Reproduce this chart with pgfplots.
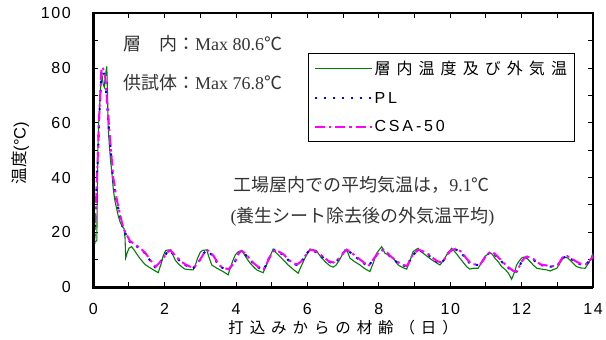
\documentclass[border=0pt]{standalone}
\usepackage{fontspec}
\usepackage{pgfplots}
\pgfplotsset{compat=1.18}
\setmainfont{Liberation Sans}
\newfontfamily\cjk{Noto Sans CJK JP}
\newfontfamily\cjksp[LetterSpace=38]{Noto Sans CJK JP}
\newfontfamily\cjkleg[LetterSpace=38]{Noto Sans CJK JP}
\newfontfamily\latsp[LetterSpace=18]{Liberation Sans}
\newfontfamily\ticksp[LetterSpace=10]{Liberation Sans}
\newfontfamily\serif{Liberation Serif}
\definecolor{cgreen}{RGB}{0,128,0}
\definecolor{cblue}{RGB}{0,0,255}
\definecolor{cmag}{RGB}{255,0,255}

\pgfplotstableread{
x y
0.00 16
0.05 16.5
0.10 17
0.11 30
0.13 50
0.15 60
0.17 62
0.19 70
0.22 75
0.25 77
0.28 74
0.31 73
0.34 77
0.36 79
0.38 80.6
0.40 70
0.42 58
0.45 52
0.48 47
0.52 42
0.56 36
0.60 32
0.65 29
0.70 26
0.76 23.5
0.82 22
0.86 21.5
0.89 18
0.91 10.7
0.95 12.5
1.00 14.2
1.07 14.8
1.15 13.5
1.25 11.5
1.35 9.8
1.45 8.3
1.55 7.4
1.65 6.6
1.75 5.8
1.82 5.3
1.90 8.5
1.96 11.5
2.03 13.4
2.10 13.6
2.17 13.4
2.24 11.5
2.30 9.8
2.40 8.3
2.50 7.2
2.57 6.6
2.70 6.4
2.80 6.3
2.86 8
2.92 10.5
3.00 12.8
3.06 13.4
3.18 13.6
3.24 11
3.32 8.1
3.45 7.0
3.55 6.3
3.65 5.6
3.78 4.5
3.85 7.5
3.92 10
3.98 11.8
4.05 12.8
4.16 13.4
4.25 11.5
4.39 8.8
4.50 7.3
4.58 6.3
4.70 5.6
4.76 5.3
4.85 8
4.95 11.2
5.04 13.9
5.12 12.6
5.23 11.2
5.35 9.6
5.46 8.1
5.60 6.5
5.74 5.1
5.82 7.5
5.93 10.6
6.02 12.8
6.07 13.9
6.25 13.4
6.32 12
6.40 10.6
6.52 9
6.63 7.8
6.72 7.3
6.80 8
6.91 10.2
7.05 13.6
7.12 13
7.19 10.6
7.30 9.5
7.47 8.1
7.60 6.8
7.75 5.7
7.85 9
7.94 12.4
8.08 14.8
8.17 12.4
8.28 11.6
8.40 10.6
8.54 8.1
8.66 7.2
8.78 6.6
8.87 9.5
8.96 13
9.10 14.2
9.24 12.4
9.36 11.2
9.48 10
9.60 9
9.71 8.1
9.80 9.5
9.90 11.8
10.04 14.2
10.15 12.6
10.27 10.6
10.38 8.8
10.46 7.5
10.55 6.6
10.65 6.9
10.78 6.9
10.88 9
10.97 11.2
11.11 12.6
11.18 12
11.25 10.6
11.35 9.2
11.44 7.5
11.55 6.3
11.63 5.1
11.72 2.9
11.80 5.5
11.86 8.1
11.93 9.5
12.00 10.6
12.07 11
12.15 10.5
12.24 9.3
12.33 8
12.43 6.9
12.55 6.6
12.71 6.3
12.80 5.9
12.90 6.5
12.99 6.9
13.06 8.5
13.13 10
13.21 11
13.30 10.6
13.40 9.3
13.54 7.5
13.66 7
13.78 6.9
13.88 8.8
13.97 11.2
14.00 12.4
}\greendata

\pgfplotstableread{
x y
0.00 15.5
0.03 16
0.06 25
0.08 32.5
0.13 48
0.16 60
0.19 68
0.21 72.6
0.23 79
0.27 79.5
0.30 78
0.32 77.5
0.36 71.4
0.41 62.9
0.46 54.4
0.50 48.3
0.55 39.8
0.64 32.5
0.74 26.4
0.83 21.5
0.92 19.1
1.02 16.6
1.16 15.4
1.25 14.6
1.35 13.5
1.45 12.4
1.55 10.5
1.68 8.1
1.73 7.3
1.85 8.8
1.96 10.6
2.06 12.6
2.15 13.4
2.24 12
2.34 10.6
2.45 9.2
2.57 8.1
2.70 7.3
2.80 6.9
2.90 8.3
2.99 10
3.10 12.5
3.19 13.4
3.28 12.3
3.36 11.2
3.45 9.3
3.55 7.5
3.66 6.8
3.78 6.3
3.88 7.8
3.97 9.3
4.05 11.8
4.11 13
4.18 13
4.28 11.6
4.39 10
4.48 8.6
4.58 7.5
4.68 6.8
4.76 6.3
4.84 8
4.90 10
5.00 12.3
5.09 13.6
5.20 12.7
5.32 11.8
5.42 10.4
5.51 9.3
5.60 8.6
5.70 8.1
5.80 9
5.88 10.2
5.98 12.3
6.07 13.6
6.21 13
6.30 12.2
6.40 11.2
6.50 10.2
6.58 9.3
6.72 8.8
6.82 9.6
6.91 10.6
7.00 12.4
7.09 13.6
7.18 12.9
7.28 11.8
7.40 10.5
7.52 9.3
7.62 8.3
7.70 7.5
7.82 9.7
7.94 11.8
8.03 12.9
8.12 13.6
8.22 12.4
8.31 11.2
8.42 10
8.54 8.8
8.66 8
8.78 7.5
8.85 9.3
8.92 11.2
9.02 12.6
9.10 13.6
9.24 12.8
9.38 11.8
9.50 10.5
9.62 9.3
9.76 8.8
9.86 10.6
9.94 12.4
10.05 13.4
10.13 13.9
10.27 13
10.37 11.5
10.46 10
10.53 9
10.60 8.1
10.72 8.1
10.83 8.1
10.93 10
11.02 11.8
11.16 13
11.25 11.8
11.34 10.6
11.44 9.3
11.53 8.1
11.65 6.8
11.76 5.7
11.86 5.7
11.93 7.5
12.00 9.3
12.07 10.4
12.14 11
12.23 10.5
12.33 10
12.42 9
12.52 8.1
12.65 7.8
12.80 7.5
12.99 7.5
13.06 9
13.13 10.6
13.26 11.2
13.38 10.3
13.50 9.3
13.60 8.6
13.69 8.1
13.78 8.1
13.88 9.3
13.97 10.6
14.00 11.8
}\bluedata

\pgfplotstableread{
x y
0.00 16
0.03 16.5
0.06 26
0.09 35
0.13 49
0.16 61
0.19 69
0.21 74
0.23 80
0.27 80.3
0.30 78.5
0.33 77.5
0.37 71
0.42 62.5
0.47 54
0.51 48
0.56 40
0.65 32.5
0.75 26.5
0.84 21.7
0.93 19.3
1.03 16.8
1.17 15.6
1.26 14.8
1.36 13.7
1.46 12.5
1.56 10.6
1.69 8.3
1.75 7.5
1.86 9
1.97 10.8
2.07 12.7
2.16 13.5
2.25 12.2
2.35 10.8
2.46 9.4
2.58 8.3
2.71 7.5
2.81 7.1
2.91 8.5
3.00 10.2
3.11 12.6
3.20 13.5
3.29 12.5
3.37 11.4
3.46 9.5
3.56 7.7
3.67 7
3.79 6.5
3.89 8
3.98 9.5
4.06 12
4.12 13.1
4.19 13.1
4.29 11.8
4.40 10.2
4.49 8.8
4.59 7.7
4.69 7
4.77 6.5
4.85 8.2
4.91 10.2
5.01 12.5
5.10 13.7
5.21 12.9
5.33 12
5.43 10.6
5.52 9.5
5.61 8.8
5.71 8.3
5.81 9.2
5.89 10.4
5.99 12.5
6.08 13.7
6.22 13.2
6.31 12.4
6.41 11.4
6.51 10.4
6.59 9.5
6.73 9
6.83 9.8
6.92 10.8
7.01 12.6
7.10 13.7
7.19 13.1
7.29 12
7.41 10.7
7.53 9.5
7.63 8.5
7.71 7.7
7.83 9.9
7.95 12
8.04 13.1
8.13 13.7
8.23 12.6
8.32 11.4
8.43 10.2
8.55 9
8.67 8.2
8.79 7.7
8.86 9.5
8.93 11.4
9.03 12.8
9.11 13.7
9.25 13
9.39 12
9.51 10.7
9.63 9.5
9.77 9
9.87 10.8
9.95 12.6
10.06 13.6
10.14 14
10.28 13.2
10.38 11.7
10.47 10.2
10.54 9.2
10.61 8.3
10.73 8.3
10.84 8.3
10.94 10.2
11.03 12
11.17 13.1
11.26 12
11.35 10.8
11.45 9.5
11.54 8.3
11.66 7
11.77 5.9
11.87 5.9
11.94 7.7
12.01 9.5
12.08 10.6
12.15 11.2
12.24 10.7
12.34 10.2
12.43 9.2
12.53 8.3
12.66 8
12.81 7.7
13.00 7.7
13.07 9.2
13.14 10.8
13.27 11.4
13.39 10.5
13.51 9.5
13.61 8.8
13.70 8.3
13.79 8.3
13.89 9.5
13.98 10.8
14.00 11.6
}\magdata

\begin{document}
\begin{tikzpicture}
\begin{axis}[
  at={(0,0)}, anchor=south west,
  width=500bp, height=274bp, scale only axis,
  xmin=0, xmax=14, ymin=0, ymax=100,
  xtick={0,2,...,14}, minor xtick={1,3,...,13},
  ytick={0,20,...,100}, minor ytick={10,30,...,90},
  tick align=inside,
  major tick length=5bp, minor tick length=5bp,
  tick style={black, line width=1bp},
  axis line style={line width=2bp},
  /pgf/number format/assume math mode=true,
  ticklabel style={font=\fontsize{16bp}{18bp}\ticksp},
  xticklabel style={yshift=-15bp, inner sep=1bp},
  yticklabel style={xshift=-19bp},
  xlabel={\cjksp 打込みからの材齢（日）},
  xlabel style={at={(axis description cs:0.5,-0.148)}, anchor=center, inner sep=0pt,
    font=\fontsize{15.5bp}{18bp}\selectfont},
  ylabel={{\cjk 温度}(°C)},
  ylabel style={at={(axis description cs:-0.146,0.49)}, anchor=center,
    font=\fontsize{16.5bp}{18bp}\selectfont},
  legend style={at={(axis description cs:0.43,0.856)}, anchor=north west,
    draw=black, line width=0.8bp, fill=white,
    inner xsep=5bp, inner ysep=6bp, row sep=12bp,
    font=\fontsize{16bp}{18bp}\selectfont,
    cells={anchor=west}},
  legend image code/.code={\draw[#1] (0bp,0bp) -- (57bp,0bp);},
  after end axis/.code={
    \draw[line width=3bp] (rel axis cs:0,1) -- (rel axis cs:0,0) -- (rel axis cs:1,0);
  },
]
\addplot[cgreen, line width=1.1bp] table[x=x,y=y] {\greendata};
\addlegendentry{\cjkleg 層内温度及び外気温}
\addplot[cblue, line width=2bp, dash pattern=on 2.5bp off 6.5bp] table[x=x,y=y] {\bluedata};
\addlegendentry{\latsp PL}
\addplot[cmag, line width=2bp, dash pattern=on 10bp off 4bp on 2.5bp off 4bp] table[x=x,y=y] {\magdata};
\addlegendentry{\latsp CSA-50}

\node[anchor=west, inner sep=0pt, text=black!80, font=\fontsize{18bp}{20bp}\selectfont]
  at (axis cs:0.83,88.8) {{\cjk 層　内：}{\serif Max 80.6}{\cjk ℃}};
\node[anchor=west, inner sep=0pt, text=black!80, font=\fontsize{18bp}{20bp}\selectfont]
  at (axis cs:0.83,74.5) {{\cjk 供試体：}{\serif Max 76.8}{\cjk ℃}};
\node[anchor=west, inner sep=0pt, text=black!80, font=\fontsize{18bp}{20bp}\selectfont]
  at (axis cs:3.92,37.4) {{\cjk 工場屋内での平均気温は，}{\serif 9.1}{\cjk ℃}};
\node[anchor=west, inner sep=0pt, text=black!80, font=\fontsize{18bp}{20bp}\selectfont]
  at (axis cs:3.84,25.8) {{\serif (}{\cjk 養生シート除去後の外気温平均}{\serif )}};
\end{axis}
\pgfresetboundingbox
\path (-93.3bp,-52.7bp) rectangle (513bp,287.3bp);
\end{tikzpicture}
\end{document}
